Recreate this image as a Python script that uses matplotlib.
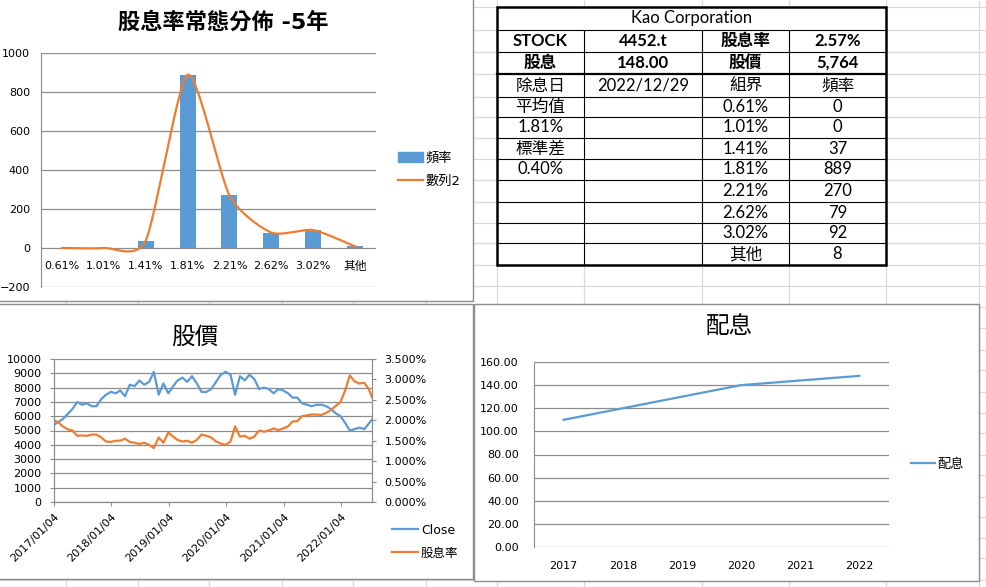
import matplotlib
matplotlib.use('Agg')
import matplotlib.pyplot as plt
import numpy as np
import pandas as pd
from matplotlib.patches import Rectangle, Patch
from matplotlib.lines import Line2D

plt.rcParams['font.family'] = ['DejaVu Sans', 'Noto Sans CJK TC']

BLUE = '#5B9BD5'
ORANGE = '#ED7D31'
GRID = '#8C8C8C'
CELL = '#D9D9D9'

W, H = 987, 587

# histogram of dividend yield (5 years)
bins = ['0.61%', '1.01%', '1.41%', '1.81%', '2.21%', '2.62%', '3.02%', '其他']
freq = [0, 0, 37, 889, 270, 79, 92, 8]

# dividend per year
years = ['2017', '2018', '2019', '2020', '2021', '2022']
dividend = [110.0, 120.0, 130.0, 140.0, 144.0, 148.0]

price_dates = pd.to_datetime(['2017-01-04']
                             + list(pd.date_range('2017-02-01', '2022-07-01', freq='MS').strftime('%Y-%m-%d'))
                             + ['2022-07-20'])
close = [5400, 5600, 5800, 6150, 6500, 7000, 6800, 6900, 6700, 6700, 7200, 7500,
         7700, 7600, 7800, 7400, 8200, 8100, 8500, 8200, 8400, 9100, 7500, 8300,
         7600, 8100, 8500, 8700, 8400, 8800, 8300, 7700, 7700, 7900, 8400, 8900,
         9100, 8900, 7500, 8800, 8500, 8900, 8600, 7900, 8000, 7900, 7600, 7900,
         7800, 7600, 7300, 7300, 6900, 6800, 6700, 6800, 6800, 6700, 6500, 6200,
         6000, 5500, 5000, 5100, 5200, 5100, 5500,
         5764]
yield_pct = [2.00, 1.95, 1.85, 1.78, 1.75, 1.62, 1.63, 1.62, 1.65, 1.65, 1.58, 1.48,
             1.47, 1.50, 1.50, 1.55, 1.47, 1.45, 1.42, 1.45, 1.40, 1.32, 1.58, 1.45,
             1.70, 1.60, 1.52, 1.48, 1.50, 1.45, 1.52, 1.65, 1.62, 1.58, 1.48, 1.43,
             1.40, 1.48, 1.85, 1.60, 1.62, 1.55, 1.60, 1.75, 1.72, 1.75, 1.80, 1.76,
             1.80, 1.85, 1.97, 1.98, 2.10, 2.12, 2.14, 2.14, 2.13, 2.18, 2.25, 2.35,
             2.45, 2.75, 3.10, 2.95, 2.90, 2.92, 2.75,
             2.57]
date_ticks = ['2017/01/04', '2018/01/04', '2019/01/04', '2020/01/04', '2021/01/04', '2022/01/04']

# table cells
table_rows = [
    ['STOCK', '4452.t', '股息率', '2.57%'],
    ['股息', '148.00', '股價', '5,764'],
    ['除息日', '2022/12/29', '組界', '頻率'],
    ['平均值', '', '0.61%', '0'],
    ['1.81%', '', '1.01%', '0'],
    ['標準差', '', '1.41%', '37'],
    ['0.40%', '', '1.81%', '889'],
    ['', '', '2.21%', '270'],
    ['', '', '2.62%', '79'],
    ['', '', '3.02%', '92'],
    ['', '', '其他', '8'],
]


def rect(x0, y0, x1, y1):
    # pixel box -> figure fraction [left, bottom, width, height]
    return [x0 / W, 1 - y1 / H, (x1 - x0) / W, (y1 - y0) / H]


def smooth(xs, ys, sx, sy, k=1 / 9, n=30):
    # bezier smoothing like excel's "smoothed line", done in screen proportions
    P = np.column_stack([np.asarray(xs, float) * sx, np.asarray(ys, float) * sy])
    Pe = np.vstack([P[0], P, P[-1]])
    out = []
    t = np.linspace(0, 1, n)[:, None]
    for i in range(len(P) - 1):
        p0, p1, p2, p3 = Pe[i], Pe[i + 1], Pe[i + 2], Pe[i + 3]
        c1 = p1 + (p2 - p0) * k
        c2 = p2 - (p3 - p1) * k
        seg = (1 - t) ** 3 * p1 + 3 * (1 - t) ** 2 * t * c1 + 3 * (1 - t) * t ** 2 * c2 + t ** 3 * p2
        out.append(seg if i == 0 else seg[1:])
    out = np.vstack(out)
    return out[:, 0] / sx, out[:, 1] / sy


fig = plt.figure(figsize=(W / 100, H / 100), dpi=100)

# ---- spreadsheet background, chart frames and table
bg = fig.add_axes([0, 0, 1, 1])
bg.set_xlim(0, W)
bg.set_ylim(H, 0)
bg.axis('off')
col_x = [66, 138, 209, 282, 353, 426, 497, 584, 702, 789, 886, 979]
row_y = [7, 30, 52, 74, 97, 117, 138, 159, 180, 202, 223, 243, 265, 286, 307, 328,
         350, 370, 392, 413, 433, 455, 475, 497, 517, 538, 558, 580]
bg.vlines(col_x, 0, H, color=CELL, lw=0.9, zorder=1)
bg.hlines(row_y, 0, W, color=CELL, lw=0.9, zorder=1)

for (x0, y0, x1, y1) in [(-2, -2, 473, 301), (-2, 304, 473, 579), (474, 304, 979, 581)]:
    bg.add_patch(Rectangle((x0, y0), x1 - x0, y1 - y0, facecolor='white',
                           edgecolor=GRID, lw=1.0, zorder=2))

tx0, tx1 = 497, 886
ty = [7, 30, 52, 74, 97, 117, 138, 159, 180, 202, 223, 243, 265]
tcols = [497, 584, 702, 789, 886]
bg.add_patch(Rectangle((tx0, ty[0]), tx1 - tx0, ty[-1] - ty[0], facecolor='white',
                       edgecolor='none', zorder=2.5))
for y in ty[1:-1]:
    bg.plot([tx0, tx1], [y, y], color='black', lw=1.6 if y == 74 else 0.8, zorder=3)
for x in tcols[1:-1]:
    bg.plot([x, x], [ty[1], ty[-1]], color='black', lw=0.8, zorder=3)
bg.add_patch(Rectangle((tx0, ty[0]), tx1 - tx0, ty[-1] - ty[0], facecolor='none',
                       edgecolor='black', lw=1.8, zorder=4))
tfont = ['Lato', 'Noto Sans CJK TC']
bg.text((tx0 + tx1) / 2, (ty[0] + ty[1]) / 2, 'Kao Corporation', ha='center', va='center',
        fontsize=12, family=tfont, zorder=5)
for r, row in enumerate(table_rows):
    yc = (ty[r + 1] + ty[r + 2]) / 2
    for c, val in enumerate(row):
        if val:
            bg.text((tcols[c] + tcols[c + 1]) / 2, yc, val, ha='center', va='center',
                    fontsize=12, family=tfont, zorder=5,
                    fontweight='bold' if r < 2 else 'normal')

# ---- top left: histogram
ax1 = fig.add_axes(rect(41, 53, 376, 287))
ax1.set_facecolor('none')
xs = np.arange(len(bins))
ax1.bar(xs, freq, width=0.38, color=BLUE, zorder=2)
sx_, sy_ = smooth(xs, freq, 42, 0.1953)
ax1.plot(sx_, sy_, color=ORANGE, lw=1.6, zorder=3)
ax1.set_xlim(-0.5, len(bins) - 0.5)
ax1.set_ylim(-200, 1000)
ax1.set_yticks(range(-200, 1001, 200))
ax1.grid(axis='y', color=GRID, lw=0.9, zorder=0)
for s in ['top', 'right', 'bottom']:
    ax1.spines[s].set_visible(False)
ax1.spines['left'].set_color(GRID)
ax1.set_xticks([])
ax1.tick_params(axis='both', length=0, labelsize=8)
ax1.tick_params(axis='y', pad=8)
for i, lab in enumerate(bins):
    ax1.annotate(lab, (i, 0), xytext=(0, -18), textcoords='offset pixels',
                 ha='center', va='center', fontsize=8.5 if lab == '其他' else 8)
fig.text(223 / W, 1 - 22 / H, '股息率常態分佈 -5年', ha='center', va='center',
         fontsize=16, fontweight='bold')
fig.legend(handles=[Patch(color=BLUE, label='頻率'), Line2D([], [], color=ORANGE, lw=1.6, label='數列2')],
           loc='center left', bbox_to_anchor=(398 / W, 1 - 169.5 / H), frameon=False,
           fontsize=9.5, borderpad=0, borderaxespad=0, handlelength=1.9,
           handletextpad=0.2, labelspacing=0.75)

# ---- bottom left: price vs yield
ax2 = fig.add_axes(rect(54, 359, 372, 502))
ax2.set_facecolor('none')
ax2.plot(price_dates, close, color=BLUE, lw=1.6, zorder=3)
ax2.set_ylim(0, 10000)
ax2.set_yticks(range(0, 10001, 1000))
ax2.grid(axis='y', color=GRID, lw=0.9)
ax2.set_xlim(price_dates[0], price_dates[-1])
ax2.set_xticks(pd.to_datetime(date_ticks))
ax2.set_xticklabels(date_ticks, rotation=45, ha='right', rotation_mode='anchor')
ax2.tick_params(axis='both', length=3, color=GRID, labelsize=8)
ax2.tick_params(axis='y', pad=6)
ax2.tick_params(axis='x', pad=4)
ax2r = ax2.twinx()
ax2r.plot(price_dates, np.array(yield_pct) / 100, color=ORANGE, lw=1.6)
ax2r.set_ylim(0, 0.035)
ax2r.set_yticks(np.arange(0, 0.0351, 0.005))
ax2r.set_yticklabels([f'{v:.3%}' for v in np.arange(0, 0.0351, 0.005)])
ax2r.tick_params(axis='y', length=3, color=GRID, labelsize=8, pad=6)
for a in (ax2, ax2r):
    a.spines['top'].set_visible(False)
    for s in ['left', 'right', 'bottom']:
        a.spines[s].set_color(GRID)
fig.text(195 / W, 1 - 337 / H, '股價', ha='center', va='center', fontsize=17)
fig.legend(handles=[Line2D([], [], color=BLUE, lw=1.6, label='Close'),
                    Line2D([], [], color=ORANGE, lw=1.6, label='股息率')],
           loc='center left', bbox_to_anchor=(392 / W, 1 - 541.5 / H), frameon=False,
           fontsize=9, borderpad=0, borderaxespad=0, handlelength=2.1,
           handletextpad=0.2, labelspacing=0.8)

# ---- bottom right: dividend
ax3 = fig.add_axes(rect(534, 362, 889, 547))
ax3.set_facecolor('none')
ax3.plot(range(len(years)), dividend, color=BLUE, lw=1.6)
ax3.set_xlim(-0.5, len(years) - 0.5)
ax3.set_ylim(0, 160)
ax3.set_yticks(range(0, 161, 20))
ax3.set_yticklabels([f'{v:.2f}' for v in range(0, 161, 20)])
ax3.set_xticks(range(len(years)))
ax3.set_xticklabels(years)
ax3.grid(axis='y', color=GRID, lw=0.9)
for s in ['top', 'right', 'bottom']:
    ax3.spines[s].set_visible(False)
ax3.spines['left'].set_color(GRID)
ax3.tick_params(axis='both', length=0, labelsize=8)
ax3.tick_params(axis='y', pad=11)
ax3.tick_params(axis='x', pad=10)
fig.text(730 / W, 1 - 327 / H, '配息', ha='center', va='center', fontsize=17)
fig.legend(handles=[Line2D([], [], color=BLUE, lw=1.6, label='配息')],
           loc='center left', bbox_to_anchor=(911 / W, 1 - 464 / H), frameon=False,
           fontsize=9.5, borderpad=0, borderaxespad=0, handlelength=1.8,
           handletextpad=0.2)

fig.savefig('out.png', dpi=100)
